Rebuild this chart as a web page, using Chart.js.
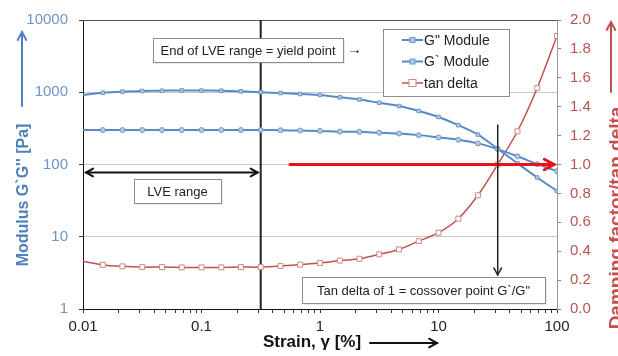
<!DOCTYPE html>
<html>
<head>
<meta charset="utf-8">
<script src="https://cdn.jsdelivr.net/npm/chart.js@4"></script>
<style>
  html, body { margin: 0; padding: 0; background: #fff; }
</style>
</head>
<body>
<canvas id="chart" width="618" height="356"></canvas>
<script>
// strain values [%] of the measuring points
const strain = [0.01, 0.0147, 0.0215, 0.0316, 0.0464, 0.0681, 0.1, 0.147, 0.215, 0.316, 0.464, 0.681,
                1, 1.47, 2.15, 3.16, 4.64, 6.81, 10, 14.7, 21.5, 31.6, 46.4, 68.1, 100];
// G" (loss modulus) [Pa]
const lossModulus = [300, 300, 300, 300, 300, 300, 300, 300, 300, 300, 298, 295,
                     292, 285, 283, 275, 268, 255, 237, 220, 196, 163, 130, 101, 81];
// G` (storage modulus) [Pa]
const storageModulus = [915, 985, 1020, 1040, 1050, 1060, 1055, 1050, 1030, 1000, 975, 945,
                        915, 850, 795, 715, 645, 550, 455, 350, 260, 165, 104, 66, 43];
// tan delta = G"/G`
const tanDelta = [0.33, 0.305, 0.295, 0.29, 0.29, 0.288, 0.288, 0.288, 0.29, 0.29, 0.297, 0.307,
                  0.318, 0.335, 0.348, 0.378, 0.412, 0.47, 0.528, 0.625, 0.787, 1.0, 1.23, 1.53, 1.89];

const xTickLabels = ["0.01", "0.1", "1", "10", "100"];
const yTickLabels = ["1", "10", "100", "1000", "10000"];
const yRightTickLabels = ["0.0", "0.2", "0.4", "0.6", "0.8", "1.0", "1.2", "1.4", "1.6", "1.8", "2.0"];

const seriesNames = ['G" Module', "G` Module", "tan delta"];

const yieldStrain = 0.316;     // end of LVE range
const crossoverStrain = 31.6;  // tan delta = 1

const FONT = "'Liberation Sans', Arial, sans-serif";
const BLUE = "#5a8ac6";
const RED = "#c0504d";

function toPoints(values) {
    return values.map((v, i) => ({ x: strain[i], y: v }));
}

// alle Dekaden mit Zwischenstrichen 2..9
const xTickValues = [];
xTickLabels.forEach((lbl, i) => {
    const base = parseFloat(lbl);
    if (i < xTickLabels.length - 1) {
        for (let m = 1; m < 10; m++) xTickValues.push(+(base * m).toPrecision(6));
    } else {
        xTickValues.push(base);
    }
});

function isDecade(v) {
    const l = Math.log10(v);
    return Math.abs(l - Math.round(l)) < 1e-9;
}

const firstHidden = (r) => strain.map((s, i) => (i === 0 ? 0 : r));

function arrowHead(ctx, x, y, angle, size) {
    ctx.beginPath();
    ctx.moveTo(x - size * Math.cos(angle - 0.5), y - size * Math.sin(angle - 0.5));
    ctx.lineTo(x, y);
    ctx.lineTo(x - size * Math.cos(angle + 0.5), y - size * Math.sin(angle + 0.5));
    ctx.stroke();
}

function arrow(ctx, x1, y1, x2, y2, color, width, size, both) {
    ctx.save();
    ctx.strokeStyle = color;
    ctx.lineWidth = width;
    ctx.lineCap = "round";
    ctx.lineJoin = "miter";
    ctx.beginPath();
    ctx.moveTo(x1, y1);
    ctx.lineTo(x2, y2);
    ctx.stroke();
    const a = Math.atan2(y2 - y1, x2 - x1);
    arrowHead(ctx, x2, y2, a, size);
    if (both) arrowHead(ctx, x1, y1, a + Math.PI, size);
    ctx.restore();
}

function textBox(ctx, text, left, top, w, h) {
    ctx.save();
    ctx.fillStyle = "rgba(0,0,0,0.08)";
    ctx.fillRect(left + 2, top + 2, w, h);
    ctx.fillStyle = "#fff";
    ctx.fillRect(left, top, w, h);
    ctx.strokeStyle = "#8c8c8c";
    ctx.lineWidth = 1;
    ctx.strokeRect(left + 0.5, top + 0.5, w, h);
    ctx.fillStyle = "#222";
    ctx.font = "13px " + FONT;
    ctx.textAlign = "center";
    ctx.textBaseline = "middle";
    ctx.fillText(text, left + w / 2, top + h / 2 + 1);
    ctx.restore();
}

const decorations = {
    id: "decorations",
    beforeDatasetsDraw(chart) {
        const { ctx, chartArea: a, scales } = chart;
        ctx.save();
        // Rahmen oben
        ctx.strokeStyle = "#555";
        ctx.lineWidth = 1;
        ctx.beginPath();
        ctx.moveTo(a.left, a.top + 0.5);
        ctx.lineTo(a.right, a.top + 0.5);
        ctx.stroke();
        // Ende LVE-Bereich
        const xv = scales.x.getPixelForValue(yieldStrain);
        ctx.strokeStyle = "#222";
        ctx.lineWidth = 2;
        ctx.beginPath();
        ctx.moveTo(xv, a.top);
        ctx.lineTo(xv, a.bottom);
        ctx.stroke();
        ctx.restore();
    },
    afterDatasetsDraw(chart) {
        const { ctx, chartArea: a, scales } = chart;
        const x = scales.x, y = scales.y, y1 = scales.y1;
        const xv = x.getPixelForValue(yieldStrain);
        const xc = x.getPixelForValue(crossoverStrain);

        // LVE range
        arrow(ctx, a.left + 3, 172.5, xv - 3, 172.5, "#111", 2, 8, true);
        textBox(ctx, "LVE range", 134, 179, 87, 24);

        // yield point
        textBox(ctx, "End of LVE range = yield point", 153, 38, 190, 24);
        ctx.save();
        ctx.fillStyle = "#222";
        ctx.font = "15px " + FONT;
        ctx.textBaseline = "middle";
        ctx.fillText("\u2192", 347, 50);
        ctx.restore();

        // tan delta = 1
        const yOne = y1.getPixelForValue(1.0);
        arrow(ctx, 290, yOne, a.right - 3, yOne, "#e8141a", 3, 11, false);
        arrow(ctx, xc, 125, xc, 275, "#222", 1.5, 8, false);
        textBox(ctx, 'Tan delta of 1 = cossover point G`/G"', 302, 277, 243, 26);

        // Legende
        ctx.save();
        ctx.fillStyle = "#fff";
        ctx.fillRect(383, 29, 126, 67);
        ctx.strokeStyle = "#8c8c8c";
        ctx.lineWidth = 1;
        ctx.strokeRect(383.5, 29.5, 126, 67);
        ctx.font = "14px " + FONT;
        ctx.textBaseline = "middle";
        chart.data.datasets.forEach((ds, i) => {
            const ly = 40 + i * 21.5;
            ctx.strokeStyle = ds.borderColor;
            ctx.lineWidth = ds.borderWidth;
            ctx.beginPath();
            ctx.moveTo(402, ly);
            ctx.lineTo(423, ly);
            ctx.stroke();
            ctx.lineWidth = 1;
            ctx.fillStyle = ds.pointBackgroundColor;
            ctx.strokeStyle = ds.pointBorderColor;
            const r = i === 2 ? 3.5 : 2.5;
            ctx.fillRect(412.5 - r, ly - r, 2 * r, 2 * r);
            ctx.strokeRect(412.5 - r, ly - r, 2 * r, 2 * r);
            ctx.fillStyle = "#222";
            ctx.fillText(ds.label, 424, ly + 1);
        });
        ctx.restore();

        // Achsentitel
        ctx.save();
        ctx.textAlign = "center";
        ctx.textBaseline = "middle";
        ctx.font = "bold 16px " + FONT;
        ctx.fillStyle = "#4f81bd";
        ctx.translate(24, 195);
        ctx.rotate(-Math.PI / 2);
        ctx.fillText("Modulus G`G'' [Pa]", 0, 0);
        ctx.restore();
        arrow(ctx, 22, 106, 22, 32, "#4f81bd", 2, 9, false);

        ctx.save();
        ctx.textAlign = "center";
        ctx.textBaseline = "middle";
        ctx.font = "bold 19px " + FONT;
        ctx.fillStyle = RED;
        ctx.translate(617, 218);
        ctx.rotate(-Math.PI / 2);
        ctx.fillText("Damping factor/tan delta", 0, 0);
        ctx.restore();
        arrow(ctx, 611, 92, 611, 22, RED, 2, 9, false);

        ctx.save();
        ctx.textAlign = "center";
        ctx.textBaseline = "middle";
        ctx.font = "bold 17px " + FONT;
        ctx.fillStyle = "#111";
        ctx.fillText("Strain, \u03b3 [%]", 312, 342);
        ctx.restore();
        arrow(ctx, 370, 343, 437, 343, "#111", 2, 9, false);
    }
};

new Chart(document.getElementById("chart").getContext("2d"), {
    type: "line",
    data: {
        datasets: [
            {
                label: seriesNames[0],
                data: toPoints(lossModulus),
                yAxisID: "y",
                borderColor: BLUE,
                borderWidth: 2,
                pointStyle: "circle",
                pointRadius: firstHidden(2.5),
                pointBackgroundColor: "#b3c9e6",
                pointBorderColor: "#6f97cc",
                pointBorderWidth: 1,
                tension: 0.3
            },
            {
                label: seriesNames[1],
                data: toPoints(storageModulus),
                yAxisID: "y",
                borderColor: BLUE,
                borderWidth: 2,
                pointStyle: "rect",
                pointRadius: firstHidden(2.5),
                pointBackgroundColor: "#b3c9e6",
                pointBorderColor: "#6f97cc",
                pointBorderWidth: 1,
                tension: 0.3
            },
            {
                label: seriesNames[2],
                data: toPoints(tanDelta),
                yAxisID: "y1",
                borderColor: RED,
                borderWidth: 1.5,
                pointStyle: "rect",
                pointRadius: firstHidden(3.5),
                pointBackgroundColor: "#ffffff",
                pointBorderColor: "#cd8785",
                pointBorderWidth: 1,
                tension: 0.3
            }
        ]
    },
    options: {
        responsive: false,
        animation: false,
        devicePixelRatio: 1,
        layout: { padding: { top: 20, left: 0, right: 0, bottom: 0 } },
        plugins: {
            legend: { display: false },
            tooltip: { enabled: false }
        },
        scales: {
            x: {
                type: "logarithmic",
                min: 0.01,
                max: 100,
                afterBuildTicks: s => { s.ticks = xTickValues.map(v => ({ value: v, major: isDecade(v) })); },
                afterFit: s => { s.height = 47; },
                ticks: {
                    autoSkip: false,
                    maxRotation: 0,
                    padding: 5,
                    color: "#222",
                    font: { size: 15, family: FONT },
                    callback: v => (isDecade(v) ? xTickLabels[Math.round(Math.log10(v)) + 2] : "")
                },
                grid: { drawOnChartArea: false, drawTicks: true, tickLength: 4, tickColor: "#333" },
                border: { color: "#111", width: 1 }
            },
            y: {
                type: "logarithmic",
                position: "left",
                min: 1,
                max: 10000,
                afterBuildTicks: s => { s.ticks = yTickLabels.map(t => ({ value: +t, major: true })); },
                afterFit: s => { s.width = 83; },
                ticks: {
                    padding: 11,
                    color: "#6d93c4",
                    font: { size: 15, family: FONT },
                    callback: v => yTickLabels[Math.round(Math.log10(v))]
                },
                grid: {
                    color: c => ([10, 100, 1000].includes(c.tick && c.tick.value) ? "#c8c8c8" : "rgba(0,0,0,0)"),
                    tickColor: "#333",
                    tickLength: 4
                },
                border: { color: "#111", width: 1 }
            },
            y1: {
                type: "linear",
                position: "right",
                min: 0,
                max: 2,
                afterFit: s => { s.width = 61; },
                ticks: {
                    stepSize: 0.2,
                    padding: 9,
                    color: "#b9534f",
                    font: { size: 15, family: FONT },
                    callback: (v, i) => yRightTickLabels[i]
                },
                grid: { drawOnChartArea: false, tickColor: "#888", tickLength: 4 },
                border: { color: "#999", width: 1 }
            }
        }
    },
    plugins: [decorations]
});
</script>
</body>
</html>
